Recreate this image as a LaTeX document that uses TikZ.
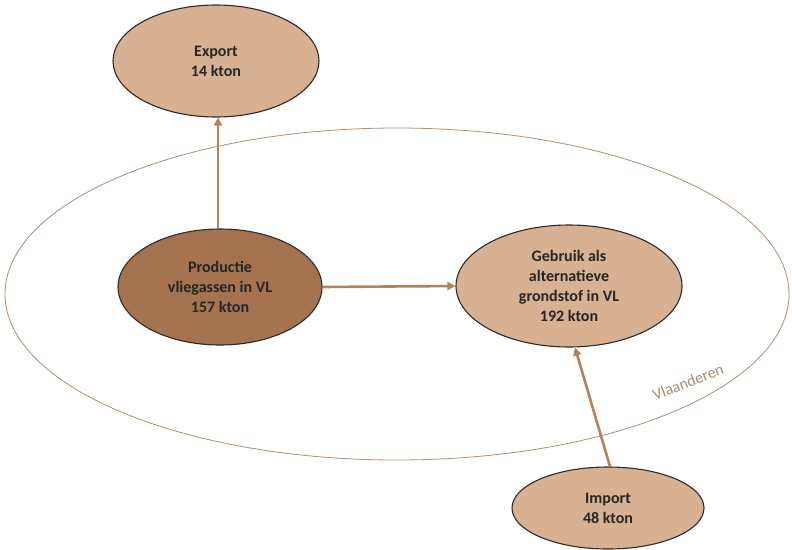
\documentclass[tikz,border=0pt]{standalone}
\usepackage{fontspec}
\setmainfont{Carlito}
\usetikzlibrary{arrows.meta,positioning,shapes.geometric}
\definecolor{tan}{HTML}{D8B092}
\definecolor{bruin}{HTML}{A57350}
\definecolor{pijl}{HTML}{B2845C}
\definecolor{rand}{HTML}{2E2A28}
\definecolor{regio}{HTML}{B48C6E}
\tikzset{
  post/.style={ellipse,draw=rand,line width=1.1pt,fill=tan,inner sep=0pt,align=center,text=black!85,font=\fontsize{16}{20}\selectfont\bfseries},
  bron/.style={post,fill=bruin},
  arr/.style={-{Triangle[length=8pt,width=8pt]},line width=2.6pt,draw=pijl}
}
\begin{document}
\begin{tikzpicture}[x=1pt,y=-1pt]
    \useasboundingbox (0,0) rectangle (792,549);
    \draw[regio,line width=0.8pt] (397,294) ellipse [x radius=392,y radius=166];
    \node[regio!90!gray,font=\fontsize{16}{18}\selectfont,rotate=21] (vlaanderen) at (688,382) {Vlaanderen};
    \node[post,minimum width=206,minimum height=112] (exportnode) at (216,61) {Export\\14 kton};
    \node[bron,minimum width=204,minimum height=116] (productie) at (220,287) {Productie\\vliegassen in VL\\157 kton};
    \node[post,minimum width=226,minimum height=122] (gebruik) at (569,286) {Gebruik als\\alternatieve\\grondstof in VL\\192 kton};
    \node[post,minimum width=192,minimum height=82] (import) at (608,508) {Import\\48 kton};
    \draw[arr] ([xshift=-2]productie.north) -- ([xshift=2]exportnode.south);
    \draw[arr] (productie.east) -- (gebruik.west);
    \draw[arr] ([xshift=2]import.north) -- ([xshift=6]gebruik.south);
  \end{tikzpicture}
\end{document}
